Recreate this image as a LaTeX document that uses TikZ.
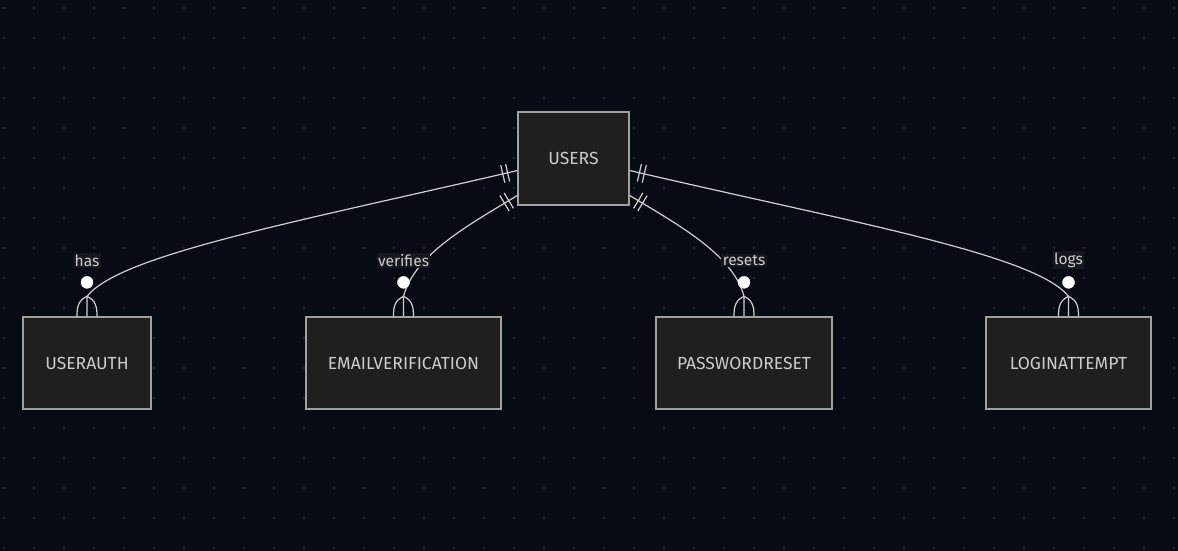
\documentclass[tikz,border=0pt]{standalone}
\usepackage{fontspec}
\setmainfont{Fira Sans}
\usetikzlibrary{calc}
\definecolor{bg}{HTML}{060B14}
\definecolor{dotc}{HTML}{1E242E}
\definecolor{boxfill}{HTML}{1F1F1F}
\definecolor{boxline}{HTML}{A0A0A0}
\definecolor{txt}{HTML}{CCCCCC}
\definecolor{edgec}{HTML}{D0D0D0}
\definecolor{lblbg}{HTML}{15191F}
\begin{document}
\begin{tikzpicture}[x=1pt,y=-1pt,
 entity/.style={draw=boxline, fill=boxfill, line width=1.3pt, minimum height=92pt, inner sep=0pt, text=txt, font=\fontsize{17.5}{20}\selectfont},
 rel/.style={draw=edgec, line width=1.2pt},
 lbl/.style={fill=lblbg, text=txt, font=\fontsize{15.5}{18}\selectfont, inner sep=1.5pt},
 zero/.style={circle, fill=white, draw=white, minimum size=12pt, inner sep=0pt}]
\fill[bg] (0,0) rectangle (1178,551);
\useasboundingbox (0,0) rectangle (1178,551);
\foreach \i in {0,...,39} \foreach \j in {0,...,18} \fill[dotc] (4+30*\i, 8+30*\j) circle (1.6pt);

\node[entity, minimum width=111pt, minimum height=93pt] (users) at (573.5,158.5) {USERS};
\node[entity, minimum width=128pt] (ua) at (87,363) {USERAUTH};
\node[entity, minimum width=195pt] (ev) at (403.5,363) {EMAILVERIFICATION};
\node[entity, minimum width=176pt] (pr) at (744,363) {PASSWORDRESET};
\node[entity, minimum width=165pt] (la) at (1068.5,363) {LOGINATTEMPT};

\coordinate (s1) at ($(users.west)+(0,12)$);
\coordinate (s2) at ($(users.west)+(0,37)$);
\coordinate (s3) at ($(users.east)+(0,37)$);
\coordinate (s4) at ($(users.east)+(0,12)$);
\coordinate (a1) at ($(ua.north)+(0,-20)$);
\coordinate (a2) at ($(ev.north)+(0,-20)$);
\coordinate (a3) at ($(pr.north)+(0,-20)$);
\coordinate (a4) at ($(la.north)+(0,-20)$);
\coordinate (c1) at ($(s1)+(-218,51)$);
\coordinate (c2) at ($(s2)+(-48,29)$);
\coordinate (c3) at ($(s3)+(48,29)$);
\coordinate (c4) at ($(s4)+(218,51)$);
\coordinate (d1) at ($(a1)+(33,-42)$);
\coordinate (d2) at ($(a2)+(11,-42)$);
\coordinate (d3) at ($(a3)+(-11,-42)$);
\coordinate (d4) at ($(a4)+(-33,-42)$);

\draw[rel] (s1) .. controls (c1) and (d1) .. (a1) -- (ua.north);
\draw[rel] (s2) .. controls (c2) and (d2) .. (a2) -- (ev.north);
\draw[rel] (s3) .. controls (c3) and (d3) .. (a3) -- (pr.north);
\draw[rel] (s4) .. controls (c4) and (d4) .. (a4) -- (la.north);

\foreach \s/\c in {s1/c1,s2/c2,s3/c3,s4/c4}{
  \draw[rel] ($($(\s)!10pt!(\c)$)!9pt!90:(\c)$) -- ($($(\s)!10pt!(\c)$)!9pt!-90:(\c)$);
  \draw[rel] ($($(\s)!15pt!(\c)$)!9pt!90:(\c)$) -- ($($(\s)!15pt!(\c)$)!9pt!-90:(\c)$);
}

\foreach \a/\n in {a1/ua,a2/ev,a3/pr,a4/la}{
  \draw[rel] (\a) .. controls +(-9,4) and +(0,-9) .. ($(\n.north)+(-10,0)$);
  \draw[rel] (\a) .. controls +(9,4) and +(0,-9) .. ($(\n.north)+(10,0)$);
}

\node[zero] (z1) at ($(ua.north)+(0,-34)$) {};
\node[zero] (z2) at ($(ev.north)+(0,-34)$) {};
\node[zero] (z3) at ($(pr.north)+(0,-34)$) {};
\node[zero] (z4) at ($(la.north)+(0,-34)$) {};

\node[lbl] (l1) at ($(ua.north)+(0,-56)$) {has};
\node[lbl] (l2) at ($(ev.north)+(0,-56)$) {verifies};
\node[lbl] (l3) at ($(pr.north)+(0,-56)$) {resets};
\node[lbl] (l4) at ($(la.north)+(0,-56)$) {logs};
\end{tikzpicture}
\end{document}
